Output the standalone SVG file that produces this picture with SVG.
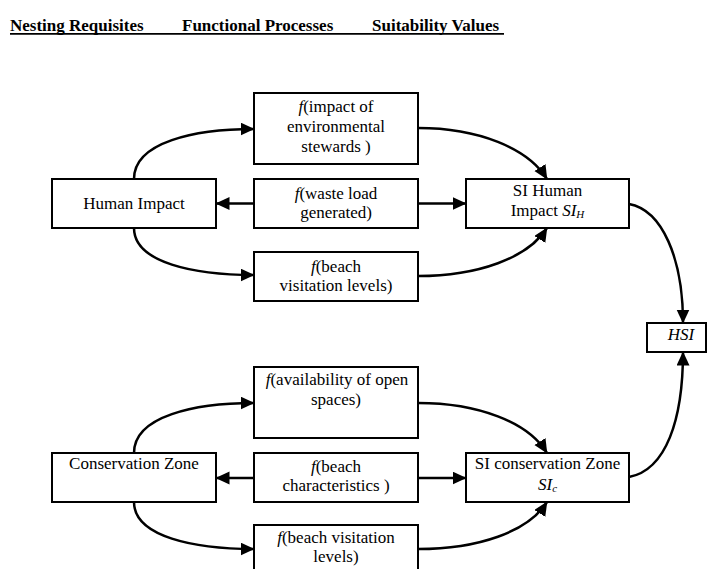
<svg xmlns="http://www.w3.org/2000/svg" width="707" height="569" viewBox="0 0 707 569">
<defs>
<marker id="ah" markerUnits="userSpaceOnUse" markerWidth="16" markerHeight="14" refX="13.5" refY="6.5" orient="auto">
<path d="M0,0 L14,6.5 L0,13 z" fill="#000"/>
</marker>
<style>
.box{fill:#fff;stroke:#000;stroke-width:2}
.t{font-family:"Liberation Serif","Times New Roman",serif;font-size:17px;fill:#000;text-anchor:middle}
.h{font-family:"Liberation Serif","Times New Roman",serif;font-size:17px;font-weight:bold;fill:#000}
.c{fill:none;stroke:#000;stroke-width:2.5;marker-end:url(#ah)}
.i{font-style:italic}
.s{font-style:italic;font-size:11px}
</style>
</defs>
<rect width="707" height="569" fill="#fff"/>
<g id="header">
<text class="h" x="10" y="31">Nesting Requisites</text>
<text class="h" x="182" y="31">Functional Processes</text>
<text class="h" x="372" y="31">Suitability Values</text>
<line x1="10" y1="33.8" x2="504" y2="33.8" stroke="#000" stroke-width="1.8"/>
</g>
<g id="connectors">
<path class="c" d="M134,179 C134,142 195,129 254,129"/>
<path class="c" d="M134,228 C134,263 195,275 254,275"/>
<path class="c" d="M254,203.5 L216,203.5"/>
<path class="c" d="M418,203.5 L466,203.5"/>
<path class="c" d="M418,128 C478,128 528,148 547,179"/>
<path class="c" d="M418,276 C478,276 528,258 547,228"/>
<path class="c" d="M629,204 C662,210 683,258 683,323"/>
<path class="c" d="M134,453 C134,416 195,403 254,403"/>
<path class="c" d="M134,502 C134,537 195,549 254,549"/>
<path class="c" d="M254,478 L216,478"/>
<path class="c" d="M418,478 L466,478"/>
<path class="c" d="M418,403 C478,403 528,422 547,453"/>
<path class="c" d="M418,549 C478,549 528,532 547,502"/>
<path class="c" d="M629,477 C666,470 683,420 683,352"/>
</g>
<g id="human-impact">
<rect class="box" x="52" y="179" width="164" height="49"/>
<text class="t" x="134" y="209">Human Impact</text>
</g>
<g id="f-stewards">
<rect class="box" x="254" y="93" width="164" height="71"/>
<text class="t" x="336" y="112"><tspan class="i">f</tspan>(impact of</text>
<text class="t" x="336" y="132">environmental</text>
<text class="t" x="336" y="152">stewards )</text>
</g>
<g id="f-waste">
<rect class="box" x="254" y="179" width="164" height="49"/>
<text class="t" x="336" y="199"><tspan class="i">f</tspan>(waste load</text>
<text class="t" x="336" y="218">generated)</text>
</g>
<g id="f-visitation-1">
<rect class="box" x="254" y="252" width="164" height="49"/>
<text class="t" x="336" y="272"><tspan class="i">f</tspan>(beach</text>
<text class="t" x="336" y="291">visitation levels)</text>
</g>
<g id="si-human">
<rect class="box" x="466" y="179" width="163" height="49"/>
<text class="t" x="547.5" y="196">SI Human</text>
<text class="t" x="547.5" y="216">Impact <tspan class="i">SI</tspan><tspan class="s" dy="2">H</tspan></text>
</g>
<g id="hsi">
<rect class="box" x="647" y="323" width="59" height="29"/>
<text class="t i" x="681" y="340">HSI</text>
</g>
<g id="conservation-zone">
<rect class="box" x="52" y="453" width="164" height="49"/>
<text class="t" x="134" y="469">Conservation Zone</text>
</g>
<g id="f-open-spaces">
<rect class="box" x="254" y="367" width="164" height="71"/>
<text class="t" x="337" y="385"><tspan class="i">f</tspan>(availability of open</text>
<text class="t" x="336" y="405">spaces)</text>
</g>
<g id="f-characteristics">
<rect class="box" x="254" y="453" width="164" height="49"/>
<text class="t" x="336" y="472"><tspan class="i">f</tspan>(beach</text>
<text class="t" x="336" y="491">characteristics )</text>
</g>
<g id="f-visitation-2">
<rect class="box" x="254" y="525" width="164" height="50"/>
<text class="t" x="336" y="543"><tspan class="i">f</tspan>(beach visitation</text>
<text class="t" x="336" y="562">levels)</text>
</g>
<g id="si-conservation">
<rect class="box" x="466" y="453" width="163" height="49"/>
<text class="t" x="547.5" y="469">SI conservation Zone</text>
<text class="t" x="547.5" y="490"><tspan class="i">SI</tspan><tspan class="s" dy="2">c</tspan></text>
</g>
</svg>
